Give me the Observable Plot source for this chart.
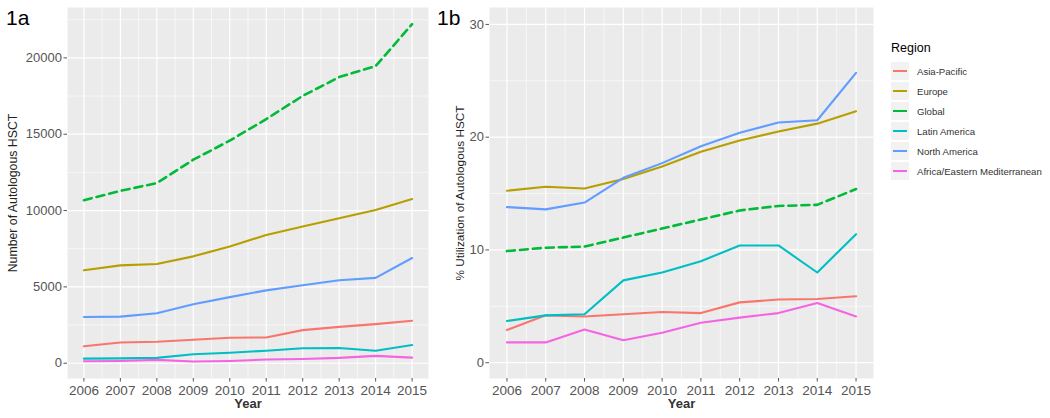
<!DOCTYPE html>
<html>
<head>
<meta charset="utf-8">
<script src="https://cdn.jsdelivr.net/npm/d3@7"></script>
<script src="https://cdn.jsdelivr.net/npm/@observablehq/plot@0.6"></script>
<style>
  body { margin:0; background:#fff; font-family:"Liberation Sans", Arial, sans-serif; }
  #wrap { position:relative; width:1050px; height:418px; overflow:hidden; }
  .panel { position:absolute; top:0; }
  .tag { position:absolute; font-size:21px; color:#000; top:6px; z-index:2; }
  #legend { position:absolute; left:891px; top:41px; font-size:9.6px; color:#333; white-space:nowrap; }
  #legend .title { font-size:12.5px; color:#000; margin-bottom:6px; }
  #legend .item { display:flex; align-items:center; height:20px; }
  #legend .key { width:18px; height:18px; background:#F2F2F2; position:relative; margin-right:8px; flex:none; }
  #legend .key span { position:absolute; left:2px; right:2px; top:8px; height:2px; }
</style>
</head>
<body>
<div id="wrap">
  <div class="tag" style="left:6px">1a</div>
  <div class="tag" style="left:437px">1b</div>
  <div id="left" class="panel" style="left:0"></div>
  <div id="right" class="panel" style="left:440px"></div>
  <div id="legend"></div>
</div>
<script>
const years = [2006, 2007, 2008, 2009, 2010, 2011, 2012, 2013, 2014, 2015];
const regions = ["Asia-Pacific", "Europe", "Global", "Latin America", "North America", "Africa/Eastern Mediterranean"];
const colors = ["#F8766D", "#B79F00", "#00BA38", "#00BFC4", "#619CFF", "#F564E3"];

// Panel 1a: number of autologous HSCT
const countAsiaPacific = [1110, 1360, 1410, 1540, 1670, 1690, 2170, 2380, 2560, 2780];
const countEurope = [6090, 6410, 6500, 7000, 7650, 8400, 8950, 9490, 10030, 10750];
const countGlobal = [10680, 11290, 11800, 13330, 14580, 15990, 17510, 18740, 19460, 22210];
const countLatinAmerica = [300, 320, 350, 590, 690, 820, 980, 1000, 820, 1190];
const countNorthAmerica = [3030, 3050, 3270, 3860, 4330, 4770, 5110, 5440, 5590, 6890];
const countAfricaEM = [130, 150, 220, 110, 150, 240, 280, 350, 480, 370];

// Panel 1b: % utilization of autologous HSCT
const pctAsiaPacific = [2.9, 4.2, 4.1, 4.3, 4.5, 4.4, 5.35, 5.6, 5.65, 5.9];
const pctEurope = [15.25, 15.6, 15.45, 16.3, 17.4, 18.7, 19.7, 20.5, 21.2, 22.3];
const pctGlobal = [9.9, 10.2, 10.3, 11.1, 11.9, 12.7, 13.5, 13.9, 14.0, 15.4];
const pctLatinAmerica = [3.7, 4.2, 4.3, 7.3, 8.0, 9.0, 10.4, 10.4, 8.0, 11.4];
const pctNorthAmerica = [13.8, 13.6, 14.2, 16.4, 17.7, 19.2, 20.4, 21.3, 21.5, 25.7];
const pctAfricaEM = [1.8, 1.8, 2.95, 2.0, 2.65, 3.55, 4.0, 4.4, 5.3, 4.1];

const leftTicks = [0, 5000, 10000, 15000, 20000];
const leftMinor = [2500, 7500, 12500, 17500, 22500];
const rightTicks = [0, 10, 20, 30];
const rightMinor = [5, 15, 25];
const minorYears = [2006.5, 2007.5, 2008.5, 2009.5, 2010.5, 2011.5, 2012.5, 2013.5, 2014.5];

const countSeries = [countAsiaPacific, countEurope, countGlobal, countLatinAmerica, countNorthAmerica, countAfricaEM];
const pctSeries = [pctAsiaPacific, pctEurope, pctGlobal, pctLatinAmerica, pctNorthAmerica, pctAfricaEM];

function tidy(series) {
  const out = [];
  regions.forEach((r, i) => years.forEach((y, j) => out.push({region: r, year: y, value: series[i][j]})));
  return out;
}

function panel(series, yDomain, yTicks, yMinor, yLabel, opts) {
  const data = tidy(series);
  const solid = data.filter(d => d.region !== "Global");
  const dashed = data.filter(d => d.region === "Global");
  return Plot.plot({
    width: opts.width, height: 418,
    marginLeft: opts.marginLeft, marginRight: opts.marginRight, marginTop: 7, marginBottom: 40,
    style: {fontFamily: '"Liberation Sans", Arial, sans-serif', background: "transparent"},
    x: {domain: [2005.55, 2015.45]},
    y: {domain: yDomain},
    color: {domain: regions, range: colors},
    marks: [
      Plot.frame({fill: "#EBEBEB", stroke: null}),
      Plot.ruleX(minorYears, {stroke: "#fff", strokeWidth: 0.6}),
      Plot.ruleY(yMinor, {stroke: "#fff", strokeWidth: 0.6}),
      Plot.ruleX(years, {stroke: "#fff", strokeWidth: 1.2}),
      Plot.ruleY(yTicks, {stroke: "#fff", strokeWidth: 1.2}),
      Plot.lineY(solid, {x: "year", y: "value", z: "region", stroke: "region", strokeWidth: 2.1}),
      Plot.lineY(dashed, {x: "year", y: "value", stroke: "region", strokeWidth: 2.6, strokeDasharray: "8,5"}),
      Plot.axisX({ticks: years, tickFormat: d => String(d), tickSize: 3.5, tickPadding: 3, fontSize: 13.5, color: "#555", label: null}),
      Plot.axisY({ticks: yTicks, tickFormat: d => String(d), tickSize: 3.5, tickPadding: 2, fontSize: 13, color: "#555", label: null}),
      Plot.text([yLabel], {frameAnchor: "left", textAnchor: "middle", rotate: -90, dx: opts.labelDx, fontSize: opts.labelSize, fill: "#222"}),
      Plot.text(["Year"], {frameAnchor: "bottom", textAnchor: "middle", dy: 29, fontSize: 13, fontWeight: "bold", fill: "#333"})
    ]
  });
}

document.getElementById("left").append(
  panel(countSeries, [-1000, 23300], leftTicks, leftMinor, "Number of Autologous HSCT",
    {width: 440, marginLeft: 67, marginRight: 12, labelDx: -54, labelSize: 12.3}));
document.getElementById("right").append(
  panel(pctSeries, [-1.4, 31.5], rightTicks, rightMinor, "% Utilization of Autologous HSCT",
    {width: 440, marginLeft: 49, marginRight: 7, labelDx: -29, labelSize: 11.8}));

const legend = document.getElementById("legend");
const t = document.createElement("div");
t.className = "title"; t.textContent = "Region";
legend.append(t);
regions.forEach((r, i) => {
  const item = document.createElement("div");
  item.className = "item";
  const key = document.createElement("div");
  key.className = "key";
  const line = document.createElement("span");
  line.style.background = colors[i];
  key.append(line);
  const lab = document.createElement("div");
  lab.textContent = r;
  item.append(key, lab);
  legend.append(item);
});
</script>
</body>
</html>
